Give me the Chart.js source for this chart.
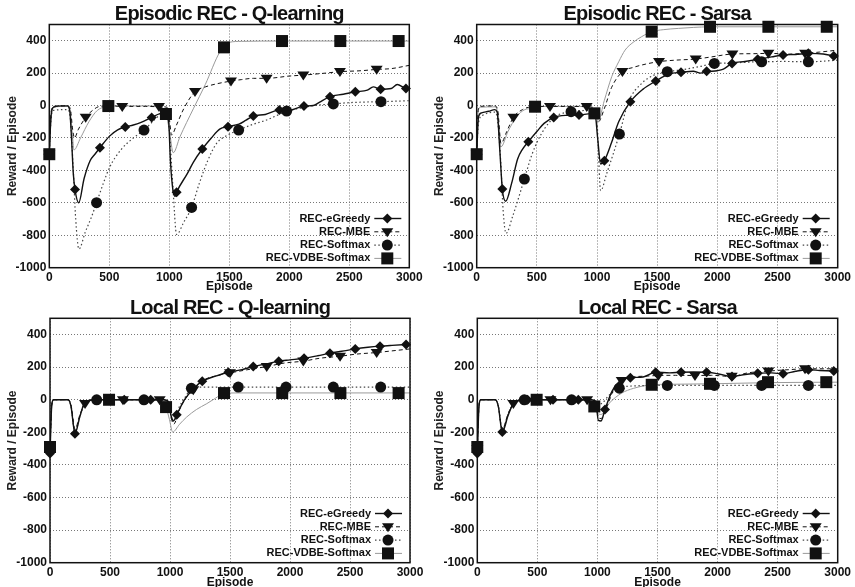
<!DOCTYPE html>
<html>
<head>
<meta charset="utf-8">
<script src="https://cdn.jsdelivr.net/npm/chart.js@4.4.0/dist/chart.umd.min.js"></script>
<style>
html, body { margin: 0; padding: 0; background: #fff; overflow: hidden; }
body { width: 855px; height: 587px; position: relative; }
.panel { position: absolute; }
.panel canvas { display: block; }
</style>
</head>
<body>
<div class="panel" style="left:0;top:0"><canvas id="c0" width="427" height="296"></canvas></div>
<div class="panel" style="left:427px;top:0"><canvas id="c1" width="428" height="296"></canvas></div>
<div class="panel" style="left:0;top:292px"><canvas id="c2" width="427" height="297"></canvas></div>
<div class="panel" style="left:427px;top:292px"><canvas id="c3" width="428" height="297"></canvas></div>
<script>
// --- axes / labels ---
const xTicks = [0, 500, 1000, 1500, 2000, 2500, 3000];
const yTicks = [-1000, -800, -600, -400, -200, 0, 200, 400];
const seriesNames = ['REC-eGreedy', 'REC-MBE', 'REC-Softmax', 'REC-VDBE-Softmax'];
const panelTitles = ['Episodic REC - Q-learning', 'Episodic REC - Sarsa', 'Local REC - Q-learning', 'Local REC - Sarsa'];

// --- Episodic REC - Q-learning : [episode, reward] ---
const epiQGreedy = [[0,-300],[15,-60],[35,-10],[100,-2],[150,-2],[170,-30],[185,-200],[200,-420],[214,-517],[245,-600],[290,-450],[340,-340],[380,-300],[422,-260],[500,-190],[570,-150],[633,-132],[700,-120],[760,-105],[853,-73],[922,-50],[975,-45],[995,-100],[1010,-350],[1030,-520],[1050,-560],[1061,-535],[1150,-420],[1200,-350],[1275,-268],[1350,-200],[1420,-145],[1489,-130],[1580,-115],[1640,-90],[1700,-65],[1800,-55],[1917,-28],[2000,-30],[2122,-3],[2200,0],[2250,20],[2339,55],[2450,70],[2550,85],[2650,95],[2700,115],[2761,100],[2850,105],[2900,130],[2972,106],[3000,110]];
const epiQGreedyMarks = [[0,-300],[214,-517],[422,-260],[633,-132],[853,-73],[1061,-535],[1275,-268],[1489,-130],[1700,-65],[1917,-28],[2122,-3],[2339,55],[2550,85],[2761,100],[2972,106]];
const epiQMbe = [[0,-300],[15,-40],[35,-5],[150,-2],[175,-20],[195,-150],[210,-200],[240,-150],[303,-73],[360,-30],[420,-5],[500,-2],[608,-5],[800,-5],[914,-7],[980,-10],[1000,-80],[1019,-182],[1060,-120],[1120,-20],[1214,86],[1300,115],[1400,135],[1514,151],[1600,160],[1700,168],[1811,168],[2000,182],[2117,188],[2300,200],[2422,209],[2600,215],[2728,223],[2850,228],[3000,248]];
const epiQMbeMarks = [[0,-300],[303,-73],[608,-7],[914,-7],[1214,86],[1514,151],[1811,168],[2117,188],[2422,209],[2728,223]];
const epiQSoft = [[0,-300],[15,-80],[35,-30],[150,-25],[175,-80],[200,-400],[220,-700],[247,-885],[300,-780],[350,-690],[394,-599],[450,-480],[505,-377],[600,-270],[700,-200],[789,-151],[860,-100],[922,-58],[978,-48],[1000,-150],[1030,-500],[1061,-795],[1120,-720],[1186,-628],[1250,-480],[1320,-340],[1394,-233],[1480,-185],[1578,-151],[1700,-115],[1811,-89],[1900,-60],[1978,-34],[2100,-15],[2200,0],[2367,10],[2500,18],[2650,22],[2764,24],[3000,30]];
const epiQSoftMarks = [[0,-300],[394,-599],[789,-151],[1186,-628],[1578,-151],[1978,-34],[2367,10],[2764,24]];
const epiQVdbe = [[0,-300],[15,-80],[35,-10],[150,-5],[175,-40],[195,-200],[205,-274],[260,-200],[330,-100],[400,-30],[478,-7],[600,-2],[800,-2],[940,-10],[972,-52],[1000,-150],[1033,-291],[1089,-192],[1200,-20],[1300,130],[1422,332],[1456,360],[1500,390],[1600,396],[1939,398],[2425,398],[3000,398]];
const epiQVdbeMarks = [[0,-300],[492,-3],[972,-52],[1456,359],[1939,398],[2425,398],[2911,398]];

// --- Episodic REC - Sarsa ---
const epiSGreedy = [[0,-300],[15,-70],[40,-45],[100,-35],[150,-25],[170,-40],[190,-250],[213,-515],[241,-590],[290,-480],[340,-330],[380,-270],[429,-223],[500,-160],[560,-110],[640,-73],[750,-60],[850,-58],[950,-50],[985,-60],[1005,-200],[1030,-360],[1061,-340],[1120,-230],[1180,-100],[1277,24],[1380,100],[1488,151],[1600,195],[1698,205],[1800,212],[1860,200],[1911,209],[2000,215],[2050,225],[2122,260],[2230,272],[2335,285],[2450,300],[2546,312],[2650,315],[2756,322],[2880,318],[2967,305],[3000,295]];
const epiSGreedyMarks = [[0,-300],[213,-515],[429,-223],[640,-73],[850,-58],[1061,-340],[1277,24],[1488,151],[1698,205],[1911,212],[2122,260],[2335,285],[2546,312],[2756,322],[2967,305]];
const epiSMbe = [[0,-300],[12,-30],[30,-5],[150,-2],[175,-30],[202,-233],[250,-160],[305,-73],[380,-25],[485,-5],[609,-5],[800,-5],[914,-7],[990,-20],[1011,-100],[1060,-20],[1120,110],[1211,209],[1300,235],[1400,255],[1515,271],[1650,280],[1820,287],[1950,300],[2125,318],[2300,320],[2424,322],[2600,318],[2729,322],[2850,330],[3000,342]];
const epiSMbeMarks = [[0,-300],[305,-73],[609,-7],[914,-7],[1211,209],[1515,271],[1820,287],[2125,318],[2424,322],[2729,322]];
const epiSSoft = [[0,-300],[14,-110],[50,-60],[150,-40],[175,-100],[200,-350],[220,-650],[244,-788],[300,-680],[396,-453],[460,-300],[540,-171],[650,-70],[784,-38],[900,-30],[980,-28],[1000,-100],[1030,-525],[1080,-420],[1186,-176],[1260,20],[1371,137],[1480,190],[1584,209],[1700,220],[1850,240],[1975,260],[2100,262],[2250,268],[2368,270],[2550,272],[2756,270],[3000,280]];
const epiSSoftMarks = [[0,-300],[396,-453],[784,-38],[1186,-176],[1584,209],[1975,260],[2368,270],[2756,270]];
const epiSVdbe = [[0,-300],[12,-40],[30,-10],[150,-8],[175,-50],[202,-254],[260,-160],[330,-70],[400,-25],[457,-17],[485,-7],[700,-5],[900,-5],[978,-48],[1011,-89],[1060,30],[1122,178],[1180,270],[1233,342],[1300,390],[1371,425],[1454,456],[1550,468],[1676,476],[1800,482],[1939,486],[2424,486],[3000,486]];
const epiSVdbeMarks = [[0,-300],[485,-7],[978,-48],[1454,456],[1939,486],[2424,486],[2909,486]];

// --- Local REC - Q-learning ---
const locQGreedy = [[0,-330],[15,-30],[30,0],[150,0],[175,-40],[208,-208],[250,-100],[292,-14],[394,0],[619,0],[839,0],[950,0],[985,-10],[1010,-100],[1030,-130],[1056,-92],[1120,0],[1200,70],[1269,114],[1380,145],[1486,169],[1600,185],[1694,204],[1800,220],[1906,237],[2000,245],[2117,255],[2230,270],[2333,286],[2450,300],[2544,312],[2650,322],[2750,329],[2850,334],[2967,339],[3000,340]];
const locQGreedyMarks = [[0,-330],[208,-208],[394,0],[619,0],[839,0],[1056,-92],[1269,114],[1486,169],[1694,204],[1906,237],[2117,255],[2333,286],[2544,312],[2750,329],[2967,339]];
const locQMbe = [[0,-300],[15,-30],[30,0],[150,0],[175,-30],[208,-180],[250,-90],[292,-24],[350,0],[608,0],[914,0],[985,-10],[1010,-110],[1030,-150],[1080,-60],[1140,20],[1194,61],[1280,120],[1400,150],[1500,165],[1650,185],[1806,204],[1950,225],[2111,237],[2250,255],[2417,267],[2550,280],[2722,290],[2850,300],[3000,312]];
const locQMbeMarks = [[0,-300],[292,-24],[608,0],[914,0],[1194,61],[1500,165],[1806,204],[2111,237],[2417,267],[2722,290]];
const locQSoft = [[0,-300],[15,-30],[30,0],[150,0],[175,-40],[208,-200],[250,-100],[292,-20],[389,0],[783,0],[950,0],[985,-10],[1010,-100],[1030,-130],[1080,-40],[1130,20],[1178,70],[1250,78],[1569,78],[2361,78],[3000,78]];
const locQSoftMarks = [[0,-300],[389,0],[783,0],[1178,70],[1569,78],[1967,78],[2361,78],[2756,78]];
const locQVdbe = [[0,-290],[15,-30],[30,0],[150,0],[175,-40],[208,-200],[250,-100],[292,-20],[350,0],[492,0],[940,-5],[967,-45],[995,-120],[1022,-198],[1080,-150],[1139,-106],[1220,-60],[1306,-24],[1380,10],[1450,40],[1600,42],[3000,42]];
const locQVdbeMarks = [[0,-290],[492,0],[967,-45],[1450,41],[1935,41],[2420,41],[2905,41]];

// --- Local REC - Sarsa ---
const locSGreedy = [[0,-330],[15,-30],[30,0],[150,0],[175,-40],[208,-198],[255,-100],[300,-24],[391,0],[619,0],[841,0],[950,0],[985,-10],[1008,-127],[1030,-130],[1063,-59],[1120,50],[1180,110],[1274,135],[1380,140],[1485,169],[1600,165],[1696,169],[1800,170],[1909,169],[2000,160],[2120,143],[2230,155],[2334,163],[2450,165],[2545,159],[2650,175],[2756,184],[2850,180],[2967,176],[3000,175]];
const locSGreedyMarks = [[0,-330],[208,-198],[419,0],[630,0],[841,0],[1063,-59],[1274,135],[1485,169],[1696,169],[1909,169],[2120,143],[2334,163],[2545,159],[2756,184],[2967,176]];
const locSMbe = [[0,-300],[15,-30],[30,0],[150,0],[175,-40],[208,-180],[255,-90],[300,-24],[380,0],[609,0],[914,0],[985,-10],[1008,-110],[1030,-115],[1080,-40],[1140,70],[1202,118],[1300,140],[1400,145],[1507,149],[1650,150],[1812,149],[1950,150],[2118,143],[2250,165],[2423,176],[2600,185],[2728,190],[3000,190]];
const locSMbeMarks = [[0,-300],[300,-24],[609,0],[914,0],[1202,118],[1507,149],[1812,149],[2118,143],[2423,176],[2728,190]];
const locSSoft = [[0,-300],[15,-30],[30,0],[150,0],[175,-40],[208,-190],[255,-90],[300,-24],[391,0],[785,0],[950,0],[985,-10],[1008,-30],[1040,-20],[1100,30],[1182,71],[1300,85],[1582,88],[2367,88],[3000,88]];
const locSSoftMarks = [[0,-300],[391,0],[785,0],[1182,71],[1582,88],[1973,88],[2367,88],[2756,88]];
const locSVdbe = [[0,-290],[15,-30],[30,0],[150,0],[175,-40],[208,-190],[255,-90],[300,-24],[350,0],[494,0],[940,-5],[974,-41],[1000,-80],[1030,-90],[1100,-20],[1200,40],[1300,70],[1452,92],[1600,95],[1937,98],[2420,105],[3000,108]];
const locSVdbeMarks = [[0,-290],[494,0],[974,-41],[1452,92],[1937,98],[2420,108],[2905,108]];

// --- look of each series (line + marker) ---
const looks = [
    { color: '#111', width: 1.4, dash: [], marker: 'diamond', size: 5 },
    { color: '#111', width: 1, dash: [4, 3], marker: 'downTri', size: 6 },
    { color: '#444', width: 1.2, dash: [1.5, 2.5], marker: 'circle', size: 5.5 },
    { color: '#9a9a9a', width: 1, dash: [], marker: 'square', size: 6 }
];
const FONT = '"Liberation Sans", Arial, Helvetica, sans-serif';

// gnuplot-like filled marker
function drawMark(ctx, kind, x, y, s) {
    ctx.beginPath();
    if (kind === 'diamond') {
        ctx.moveTo(x, y - s); ctx.lineTo(x + s, y); ctx.lineTo(x, y + s); ctx.lineTo(x - s, y);
    } else if (kind === 'downTri') {
        ctx.moveTo(x - s, y - s * 0.6); ctx.lineTo(x + s, y - s * 0.6); ctx.lineTo(x, y + s * 0.9);
    } else if (kind === 'circle') {
        ctx.arc(x, y, s, 0, Math.PI * 2);
    } else {
        ctx.rect(x - s, y - s, 2 * s, 2 * s);
    }
    ctx.closePath();
    ctx.fillStyle = '#111';
    ctx.fill();
}

const chartDecor = {
    id: 'chartDecor',
    afterDraw(chart) {
        const { ctx, chartArea: a } = chart;
        const opts = chart.options.plugins.chartDecor;
        ctx.save();
        // frame
        ctx.setLineDash([]);
        ctx.strokeStyle = '#111';
        ctx.lineWidth = 1.5;
        ctx.strokeRect(a.left, a.top, a.right - a.left, a.bottom - a.top);
        // markers
        opts.marks.forEach((pts, i) => {
            const xs = chart.scales.x, ys = chart.scales.y;
            pts.forEach(p => drawMark(ctx, looks[i].marker, xs.getPixelForValue(p[0]), ys.getPixelForValue(p[1]), looks[i].size));
        });
        // title
        ctx.fillStyle = '#111';
        ctx.font = 'bold 20px ' + FONT;
        if ('letterSpacing' in ctx) ctx.letterSpacing = '-0.8px';
        ctx.textAlign = 'center';
        ctx.textBaseline = 'alphabetic';
        ctx.fillText(opts.title, (a.left + a.right) / 2, a.top - 4.5);
        if ('letterSpacing' in ctx) ctx.letterSpacing = '0px';
        // legend, bottom right inside the plot
        ctx.font = 'bold 11px ' + FONT;
        ctx.textAlign = 'right';
        ctx.textBaseline = 'middle';
        seriesNames.forEach((name, i) => {
            const y = a.bottom - 9.3 - (3 - i) * 13.3;
            const lk = looks[i];
            ctx.fillStyle = '#111';
            ctx.fillText(name, a.right - 39, y);
            ctx.strokeStyle = lk.color;
            ctx.lineWidth = lk.width;
            ctx.setLineDash(lk.dash);
            ctx.beginPath();
            ctx.moveTo(a.right - 35, y);
            ctx.lineTo(a.right - 8, y);
            ctx.stroke();
            ctx.setLineDash([]);
            drawMark(ctx, lk.marker, a.right - 22, y, lk.size);
        });
        ctx.restore();
    }
};

function makePanel(p) {
    const canvas = document.getElementById(p.id);
    const W = canvas.width, H = canvas.height;
    const datasets = p.lines.map((pts, i) => ({
        label: seriesNames[i],
        data: pts.map(q => ({ x: q[0], y: q[1] })),
        showLine: true,
        pointRadius: 0,
        borderColor: looks[i].color,
        borderWidth: looks[i].width,
        borderDash: looks[i].dash,
        cubicInterpolationMode: 'monotone',
        order: i + 1
    }));
    return new Chart(canvas, {
        type: 'scatter',
        data: { datasets: datasets },
        options: {
            responsive: false,
            animation: false,
            devicePixelRatio: 1,
            layout: { padding: { left: 0, right: W - p.area.right, top: p.area.top, bottom: 0 } },
            plugins: {
                legend: { display: false },
                tooltip: { enabled: false },
                chartDecor: { title: p.title, marks: p.marks }
            },
            scales: {
                x: {
                    type: 'linear', min: 0, max: 3000,
                    afterBuildTicks: s => { s.ticks = xTicks.map(v => ({ value: v })); },
                    afterFit: s => { s.height = H - p.area.bottom; },
                    grid: { color: '#777', lineWidth: 1, drawTicks: false },
                    border: { display: false, dash: [1, 2] },
                    ticks: { color: '#111', padding: 3, maxRotation: 0, callback: v => String(v),
                             font: { family: FONT, size: 12, weight: 'bold' } },
                    title: { display: true, text: 'Episode', color: '#111', padding: { top: 0, bottom: p.xTitlePad },
                             font: { family: FONT, size: 12, weight: 'bold', lineHeight: 1 } }
                },
                y: {
                    type: 'linear', min: -1000, max: 500,
                    afterBuildTicks: s => { s.ticks = yTicks.map(v => ({ value: v })); },
                    afterFit: s => { s.width = p.area.left; },
                    grid: { color: '#777', lineWidth: 1, drawTicks: false },
                    border: { display: false, dash: [1, 2] },
                    ticks: { color: '#111', padding: 3, callback: v => String(v),
                             font: { family: FONT, size: 12, weight: 'bold' } },
                    title: { display: true, text: 'Reward / Episode', color: '#222', padding: { top: 5.5, bottom: 0 },
                             font: { family: FONT, size: 12, weight: 'bold' } }
                }
            }
        },
        plugins: [chartDecor]
    });
}

makePanel({ id: 'c0', title: panelTitles[0], lines: [epiQGreedy, epiQMbe, epiQSoft, epiQVdbe],
    marks: [epiQGreedyMarks, epiQMbeMarks, epiQSoftMarks, epiQVdbeMarks],
    area: { left: 49.3, right: 409.3, top: 24.5, bottom: 267.7 }, xTitlePad: 3 });
makePanel({ id: 'c1', title: panelTitles[1], lines: [epiSGreedy, epiSMbe, epiSSoft, epiSVdbe],
    marks: [epiSGreedyMarks, epiSMbeMarks, epiSSoftMarks, epiSVdbeMarks],
    area: { left: 49.7, right: 410.7, top: 24.5, bottom: 267.7 }, xTitlePad: 3 });
makePanel({ id: 'c2', title: panelTitles[2], lines: [locQGreedy, locQMbe, locQSoft, locQVdbe],
    marks: [locQGreedyMarks, locQMbeMarks, locQSoftMarks, locQVdbeMarks],
    area: { left: 50, right: 410, top: 26.3, bottom: 270.7 }, xTitlePad: 0 });
makePanel({ id: 'c3', title: panelTitles[3], lines: [locSGreedy, locSMbe, locSSoft, locSVdbe],
    marks: [locSGreedyMarks, locSMbeMarks, locSSoftMarks, locSVdbeMarks],
    area: { left: 50.3, right: 410.7, top: 26.3, bottom: 270.7 }, xTitlePad: 0 });
</script>
</body>
</html>
